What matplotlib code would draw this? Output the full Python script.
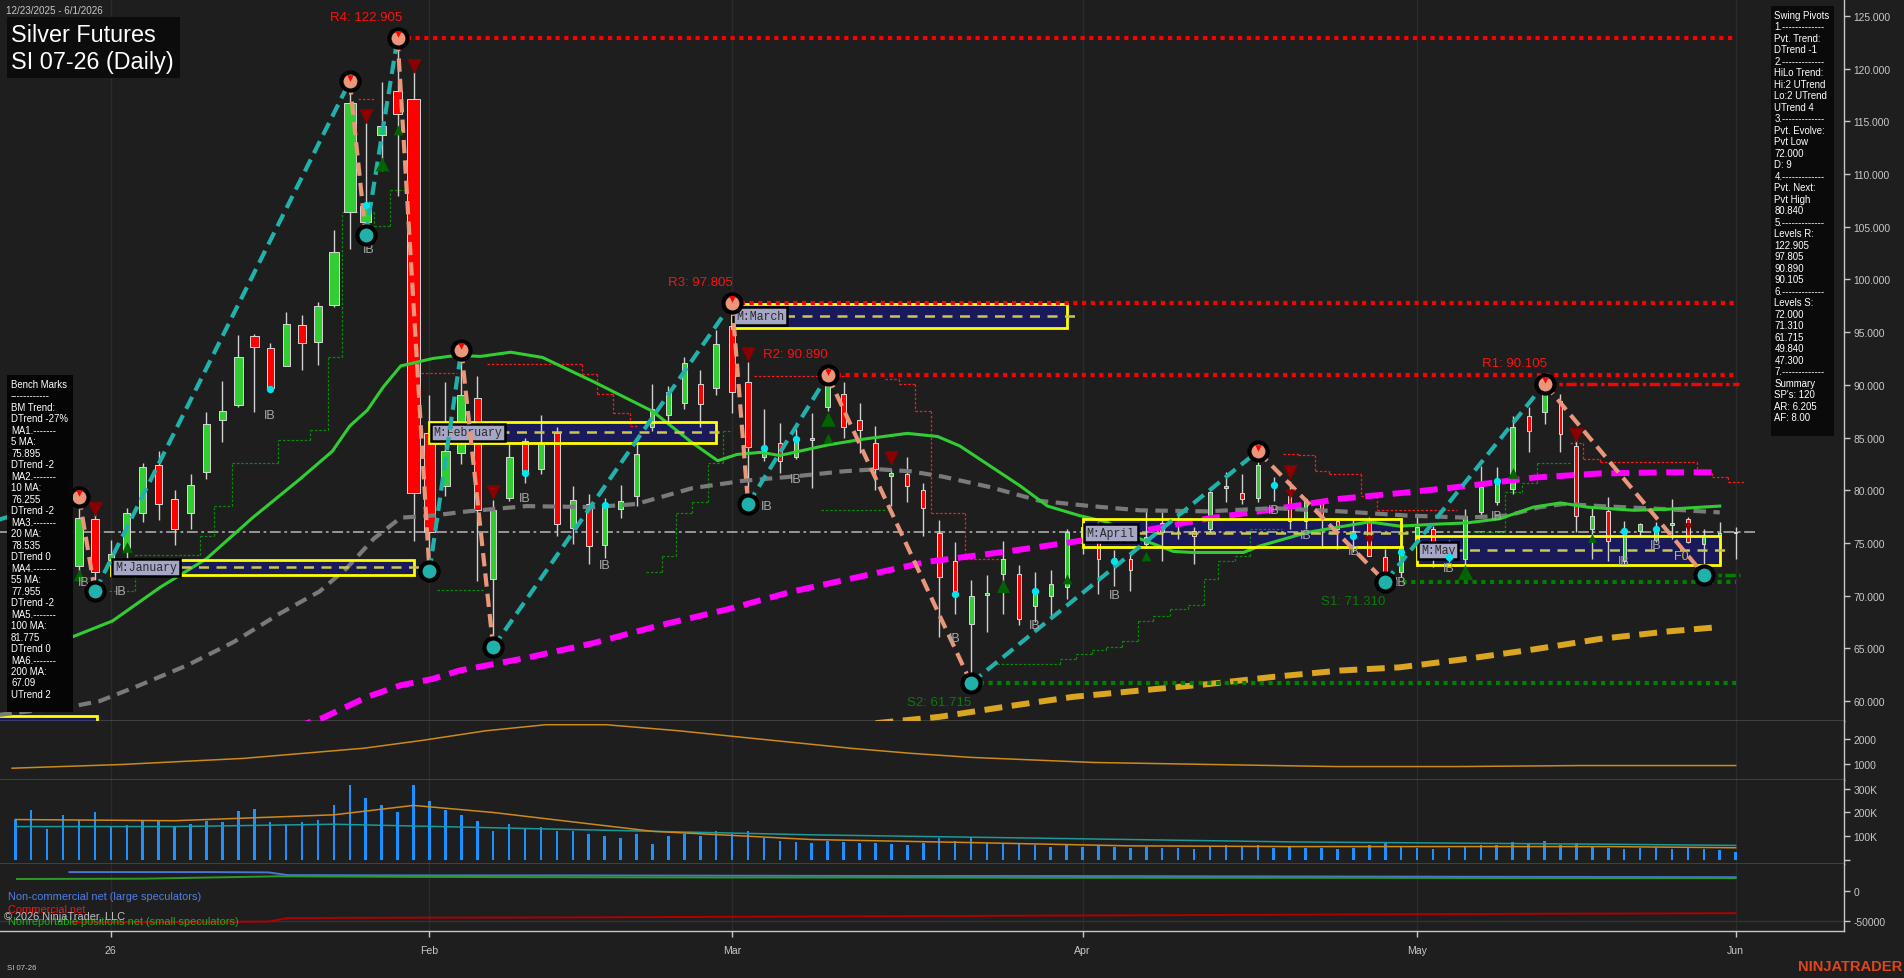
import matplotlib
matplotlib.use("Agg")
import matplotlib.pyplot as plt
from matplotlib.patches import Rectangle
import numpy as np

plt.rcParams['font.family'] = ['Liberation Sans', 'DejaVu Sans']

W, H = 1904, 979
BG = '#1e1e1e'
TXT = '#c8c8c8'

# ---------------- price bars (index 0 = 12/23/2025, 108 = 6/1/2026) ----------------
opens = [71.0, 72.5, 74.5, 75.8, 72.8, 77.3, 73.4, 74.3, 77.8, 82.4,
         79.2, 77.8, 81.7, 86.7, 88.1, 94.6, 93.5, 91.8, 95.7, 94.1,
         97.6, 106.4, 105.5, 113.7, 117.9, 117.1, 85.4, 80.4, 83.5, 88.8,
         71.6, 79.3, 84.7, 82.0, 85.4, 76.4, 78.7, 74.8, 78.2, 79.5,
         86.0, 87.1, 88.3, 90.1, 89.7, 95.6, 90.3, 83.2, 84.5, 83.2,
         84.8, 87.9, 89.1, 86.7, 84.5, 81.4, 81.5, 80.0, 75.9, 73.3,
         67.3, 70.1, 72.1, 72.1, 69.0, 70.0, 70.8, 75.0, 76.0, 73.3,
         73.5, 74.9, 76.0, 76.7, 76.1, 76.3, 80.2, 79.7, 79.3, 80.5,
         79.5, 77.1, 79.0, 77.1, 75.8, 77.3, 73.7, 72.2, 75.0, 76.3,
         74.1, 73.5, 77.9, 78.9, 80.1, 87.0, 87.4, 88.5, 84.2, 76.3,
         78.0, 73.3, 76.1, 75.3, 76.7, 77.3, 74.9, 75.8, 75.9]
highs = [73.5, 75.0, 76.5, 77.0, 79.4, 78.7, 75.3, 78.3, 82.6, 83.7,
         80.0, 81.5, 87.4, 90.4, 94.7, 94.8, 94.0, 96.9, 96.6, 97.9,
         104.7, 118.8, 114.8, 118.7, 122.905, 119.7, 89.0, 90.3, 93.3, 90.8,
         79.1, 84.5, 85.0, 87.1, 86.0, 80.4, 79.6, 79.3, 80.5, 84.5,
         90.1, 89.9, 92.6, 91.4, 95.2, 97.805, 92.2, 87.7, 86.4, 85.8,
         87.3, 90.89, 90.3, 88.3, 86.1, 82.0, 83.2, 80.7, 77.2, 75.1,
         71.5, 72.0, 75.2, 72.9, 72.2, 72.4, 76.3, 77.5, 77.0, 74.3,
         74.0, 78.2, 77.9, 77.9, 76.5, 79.9, 81.7, 81.5, 83.7, 81.3,
         80.9, 79.3, 79.2, 77.3, 77.2, 77.5, 74.4, 75.2, 77.5, 76.6,
         75.3, 78.2, 82.3, 82.2, 87.0, 87.9, 90.105, 89.1, 84.9, 78.4,
         79.4, 77.1, 76.9, 77.0, 79.2, 77.5, 76.3, 77.0, 76.5]
lows = [70.0, 71.8, 73.5, 72.5, 72.2, 70.4, 71.8, 73.6, 77.0, 77.2,
        74.8, 76.3, 81.1, 84.6, 87.9, 87.4, 89.3, 91.8, 91.4, 91.9,
        97.4, 102.9, 104.2, 110.3, 107.9, 75.2, 72.3, 79.5, 82.5, 71.4,
        65.1, 79.0, 80.7, 81.5, 75.7, 74.9, 73.0, 73.6, 77.4, 78.5,
        85.6, 86.4, 87.7, 86.0, 89.0, 87.3, 78.7, 82.8, 81.6, 83.0,
        80.2, 87.5, 85.0, 83.5, 80.0, 78.5, 78.9, 75.7, 66.1, 68.3,
        61.715, 66.6, 68.3, 67.2, 67.5, 67.9, 69.7, 74.0, 70.2, 70.9,
        70.4, 74.5, 73.3, 75.4, 73.0, 76.0, 78.9, 78.7, 78.9, 79.0,
        76.3, 76.3, 74.7, 74.4, 74.1, 73.8, 71.31, 71.8, 72.8, 72.7,
        73.2, 72.8, 77.6, 78.6, 79.6, 83.6, 86.3, 83.6, 76.0, 73.5,
        73.3, 72.8, 75.6, 75.1, 75.4, 75.0, 72.0, 74.4, 73.5]
closes = [72.5, 74.5, 75.8, 73.2, 77.4, 72.2, 74.0, 77.8, 82.2, 78.7,
          76.3, 80.5, 86.3, 87.5, 92.6, 93.6, 89.7, 95.8, 94.0, 97.5,
          102.6, 116.7, 107.0, 114.6, 115.7, 79.7, 76.0, 83.7, 89.0, 78.1,
          78.1, 83.2, 81.6, 84.5, 76.8, 79.1, 74.7, 78.5, 79.0, 83.4,
          87.7, 89.3, 92.1, 88.2, 93.9, 89.3, 84.1, 84.0, 82.8, 84.9,
          85.0, 89.9, 86.0, 85.7, 82.0, 81.6, 80.4, 78.3, 71.8, 70.4,
          70.0, 70.3, 73.5, 67.8, 70.5, 71.1, 76.0, 76.5, 73.5, 73.6,
          72.4, 75.6, 76.9, 76.9, 75.7, 79.8, 80.4, 79.2, 82.4, 80.7,
          77.1, 79.2, 77.5, 76.3, 76.1, 73.8, 72.1, 74.7, 76.5, 74.1,
          74.4, 77.6, 80.3, 80.9, 86.0, 85.6, 89.1, 85.3, 77.6, 77.6,
          75.2, 76.0, 76.8, 76.3, 76.9, 75.1, 75.8, 75.9, 76.0]

# volume in thousands of contracts
volume = [170, 210, 130, 190, 170, 200, 140, 145, 165, 170, 140, 150, 165, 160, 205, 215, 160,
          150, 160, 170, 230, 315, 260, 230, 200, 315, 250, 210, 190, 165, 120, 150, 130, 140,
          120, 120, 110, 100, 90, 110, 65, 100, 110, 100, 120, 110, 120, 90, 80, 75, 70, 80,
          75, 70, 70, 65, 60, 70, 90, 80, 95, 70, 65, 70, 60, 55, 65, 55, 60, 55, 50, 55, 50,
          50, 45, 55, 60, 55, 60, 50, 55, 50, 50, 45, 50, 60, 70, 55, 50, 45, 50, 55, 60, 60,
          75, 65, 80, 60, 70, 55, 50, 45, 50, 55, 45, 50, 45, 40, 30]

xtick_pos = [6, 26, 45, 67, 88, 108]
xtick_lab = ['26', 'Feb', 'Mar', 'Apr', 'May', 'Jun']

# ---------------- moving averages (read at sample bars) ----------------
ma20_x = [0, 3.6, 6.1, 9.1, 12.0, 14.9, 17.9, 19.9, 21.0, 22.1, 23.1, 24.2, 26.2, 27.7, 29.2,
          31.1, 33.1, 36.3, 40.0, 42.5, 44.1, 45.3, 46.8, 48.0, 51.0, 53.0, 56.0, 57.9, 59.3,
          61.2, 63.1, 64.8, 66.8, 68.5, 70.6, 72.7, 73.9, 77.1, 78.1, 81.1, 85.0, 86.9, 89.4,
          91.1, 93.2, 95.3, 97.0, 98.7, 101.6, 103.7, 107.0]
ma20_y = [65.0, 66.1, 67.6, 70.8, 73.5, 77.4, 81.1, 83.7, 86.1, 87.6, 89.8, 91.8, 92.5, 92.8, 92.7,
          93.1, 92.6, 90.3, 87.5, 84.5, 82.8, 83.4, 83.6, 83.3, 84.3, 84.8, 85.4, 85.1, 84.2,
          82.3, 80.4, 78.5, 77.6, 77.0, 75.4, 74.2, 74.1, 74.1, 74.7, 76.0, 77.0, 76.6, 76.8,
          76.9, 77.3, 78.4, 78.8, 78.4, 78.1, 78.2, 78.5]
ma55_x = [-1.0, 3.6, 5.3, 7.8, 10.8, 13.7, 16.6, 19.1, 20.8, 22.5, 24.2, 26.2, 28.4, 32.1, 36.3,
          39.0, 42.5, 45.7, 48.8, 52.0, 54.1, 56.2, 58.2, 61.2, 64.3, 67.5, 70.6, 74.8, 79.0,
          83.2, 87.4, 91.1, 93.7, 95.7, 97.2, 99.5, 103.7, 107.0]
ma55_y = [58.7, 59.5, 60.0, 61.5, 63.4, 65.6, 68.3, 70.4, 72.6, 75.4, 77.4, 77.6, 78.0, 78.5, 78.4,
          78.7, 80.2, 80.9, 81.3, 81.8, 82.0, 81.8, 81.3, 80.3, 79.0, 78.5, 78.1, 78.0, 78.3,
          78.0, 77.6, 77.4, 77.6, 78.4, 78.7, 78.5, 78.2, 77.9]
ma100_x = [17.5, 19.3, 22.1, 24.2, 26.2, 27.9, 32.1, 36.3, 40.5, 44.7, 48.8, 53.0, 57.2, 62.3,
           66.4, 70.6, 74.8, 79.0, 83.2, 87.4, 91.1, 95.3, 99.5, 103.7, 107.0]
ma100_y = [57.5, 58.4, 60.4, 61.5, 62.1, 62.9, 64.1, 65.5, 67.2, 68.7, 70.4, 71.8, 73.2, 74.2,
           75.1, 76.1, 77.3, 78.2, 79.2, 79.8, 80.4, 81.2, 81.6, 81.7, 81.7]
ma200_x = [54.0, 58.0, 62.3, 66.4, 70.6, 74.8, 79.0, 83.2, 86.9, 91.1, 95.3, 99.5, 103.7, 106.8]
ma200_y = [57.9, 58.5, 59.5, 60.4, 61.0, 61.6, 62.3, 62.9, 63.2, 64.0, 64.9, 65.9, 66.6, 67.0]

# ---------------- trailing step lines (start bar, end bar, price) ----------------
green_steps = [(5.9, 7.5, 70.4), (7.5, 11.6, 73.9), (11.6, 12.5, 75.7), (12.5, 13.6, 78.5),
               (13.6, 16.5, 82.6), (16.5, 18.5, 84.8), (18.5, 19.6, 85.7), (19.6, 20.5, 92.6),
               (20.5, 22.5, 106.4), (22.5, 23.5, 105.1), (23.5, 24.6, 108.5),
               (26.5, 29.5, 70.5), (39.6, 40.6, 72.2), (40.6, 41.5, 73.8), (41.5, 42.5, 77.8),
               (42.5, 43.5, 78.9), (43.5, 44.4, 82.6), (44.4, 45.0, 85.6), (50.6, 54.7, 78.1),
               (61.6, 65.6, 63.5), (65.6, 66.6, 64.0), (66.6, 67.6, 64.5), (67.6, 68.5, 64.8),
               (68.5, 69.5, 65.1), (69.5, 70.5, 65.7), (70.5, 71.4, 67.6), (71.4, 72.5, 68.1),
               (72.5, 73.6, 68.7), (73.6, 74.6, 69.1), (74.6, 75.5, 71.6), (75.5, 76.6, 73.3),
               (76.6, 77.5, 73.8), (77.5, 79.5, 76.3), (91.5, 93.5, 76.0), (93.5, 94.6, 79.8),
               (94.6, 95.5, 80.7), (95.5, 97.6, 82.6)]
red_steps = [(21.5, 22.5, 117.1), (25.5, 27.7, 91.1), (29.6, 35.6, 92.0), (35.6, 36.5, 91.0),
             (36.5, 37.5, 89.1), (37.5, 38.6, 87.3), (38.6, 39.0, 86.1),
             (46.4, 52.1, 90.8), (54.6, 55.5, 90.6), (55.5, 56.5, 90.1), (56.5, 57.5, 87.5),
             (57.5, 59.6, 77.8), (59.6, 62.2, 73.5),
             (79.6, 80.5, 83.4), (80.5, 81.6, 83.3), (81.6, 82.5, 81.8), (82.5, 84.5, 81.5),
             (84.5, 85.5, 79.5), (85.5, 90.5, 78.1),
             (97.6, 98.4, 84.5), (98.4, 99.5, 83.0), (99.5, 105.6, 82.7), (105.6, 106.5, 81.6),
             (106.5, 107.5, 81.3), (107.5, 108.6, 80.8)]

# ---------------- swing pivots ----------------
pivot_idx = [-5, 4, 5, 21, 22, 24, 26, 28, 30, 45, 46, 51, 60, 78, 86, 96, 106]
pivot_px = [75.5, 79.4, 70.4, 118.8, 104.2, 122.905, 72.3, 93.3, 65.1, 97.805, 78.7, 90.89,
            61.715, 83.7, 71.31, 90.105, 72.0]
pivot_hi = [False, True, False, True, False, True, False, True, False, True, False, True,
            False, True, False, True, False]

res_levels = [("R4", 24, 122.905), ("R3", 45, 97.805), ("R2", 51, 90.890)]
r1_level = ("R1", 96, 90.105)
sup_levels = [("S1", 86, 71.310), ("S2", 60, 61.715)]
pvt_low_level = (106, 72.000)

# ---------------- monthly boxes (first bar, last bar, low, high, name) ----------------
months = [("M:January", 6, 25, 71.97, 73.39), ("M:February", 26, 44, 84.49, 86.48),
          ("M:March", 45, 66, 95.40, 97.67), ("M:April", 67, 87, 74.62, 77.28),
          ("M:May", 88, 107, 72.91, 75.67)]
dec_box = (-1.5, 5.1, 50.0, 58.6)

# markers
down_tri = [(5, 78.2, 110), (22, 115.5, 110), (25, 120.3, 110), (30, 79.8, 110), (46, 92.9, 110),
            (55, 83.1, 110), (80, 81.7, 110), (80, 79.6, 50), (85, 75.3, 50), (98, 85.2, 110),
            (105, 76.5, 40)]
up_tri = [(4, 72.0, 70), (7, 74.6, 60), (23, 111.0, 100), (24, 114.2, 50), (51, 86.8, 110),
          (51, 85.0, 50), (62, 70.9, 90), (66, 71.6, 50), (71, 73.8, 50), (91, 72.2, 120),
          (94, 81.6, 60), (99, 75.5, 40), (106, 72.3, 40)]
cyan_dots = [(16, 89.6), (22, 107.1), (32, 81.6), (37, 78.6), (47, 84.0), (49, 84.9), (59, 70.2),
             (64, 70.4), (69, 73.3), (79, 80.5), (84, 75.7), (87, 74.1), (90, 73.7), (93, 80.9),
             (101, 76.1), (103, 76.3)]
ib_labels = [(4.3, 71.3), (6.6, 70.4), (16, 87.1), (22.2, 102.9), (32, 79.3), (37, 72.9),
             (47.2, 78.5), (49, 81.1), (59, 66.0), (64, 67.2), (69, 70.1), (79, 78.1),
             (81, 75.8), (84, 74.2), (87.0, 71.3), (90, 72.6), (93, 77.6), (101, 73.3),
             (103, 74.8)]

# ---------------- lower panels ----------------
osc_x = [-0.2, 6.6, 14.3, 21.9, 25.7, 29.5, 33.3, 37.1, 41.7, 44.8, 48.6, 52.4, 56.2, 60.0,
         67.7, 75.3, 82.9, 90.5, 98.2, 108.0]
osc_y = [808, 958, 1208, 1625, 1958, 2333, 2583, 2583, 2333, 2125, 1875, 1625, 1417, 1250,
         1042, 958, 875, 875, 917, 917]

vol_avg_x = [0, 10, 20, 25, 30, 40, 50, 60, 70, 80, 90, 100, 108]
vol_avg_y = [170, 165, 190, 230, 200, 120, 85, 72, 58, 55, 55, 55, 50]
oi_x = [0, 10, 20, 30, 40, 50, 60, 70, 80, 90, 100, 108]
oi_y = [140, 140, 150, 135, 120, 105, 95, 85, 75, 70, 65, 60]

cot_x = [3.4, 8.0, 12.5, 15.9, 17.1, 25.0, 35.0, 45.0, 55.0, 65.0, 75.0, 85.0, 95.0, 108.0]
cot_noncomm = [31500, 31500, 31500, 31000, 26500, 26000, 26000, 25500, 25000, 25000, 24500,
               24000, 23500, 23000]
cot_comm = [-52000, -52000, -51500, -51000, -45000, -44500, -44000, -43000, -42000, -41000,
            -40000, -39000, -38000, -37000]
cot_small_x = [0.1, 8.0, 16.5, 25.0, 35.0, 45.0, 55.0, 65.0, 75.0, 85.0, 95.0, 108.0]
cot_small = [20000, 20500, 24500, 23500, 23000, 22500, 22500, 22000, 22000, 22000, 21500, 21500]

bench_lines = ["Bench Marks", "------------", "BM Trend:", "DTrend -27%", "MA1.-------", "5 MA:",
               "75.895", "DTrend -2", "MA2.-------", "10 MA:", "76.255", "DTrend -2",
               "MA3.-------", "20 MA:", "78.535", "DTrend 0", "MA4.-------", "55 MA:", "77.955",
               "DTrend -2", "MA5.-------", "100 MA:", "81.775", "DTrend 0", "MA6.-------",
               "200 MA:", "67.09", "UTrend 2"]
swing_lines = ["Swing Pivots", "1.-------------", "Pvt. Trend:", "DTrend -1", "2.-------------",
               "HiLo Trend:", "Hi:2 UTrend", "Lo:2 UTrend", "UTrend 4", "3.-------------",
               "Pvt. Evolve:", "Pvt Low", "72.000", "D: 9", "4.-------------", "Pvt. Next:",
               "Pvt High", "80.840", "5.-------------", "Levels R:", "122.905", "97.805",
               "90.890", "90.105", "6.-------------", "Levels S:", "72.000", "71.310", "61.715",
               "49.840", "47.300", "7.-------------", "Summary", "SP's: 120", "AR: 6.205",
               "AF: 8.00"]

# =====================================================================
fig = plt.figure(figsize=(W / 100, H / 100), dpi=100, facecolor=BG)


def px_axes(top, bottom):
    return fig.add_axes([0, 1 - bottom / H, 1844 / W, (bottom - top) / H])


ax = px_axes(0, 722)
ax2 = px_axes(722, 781)
ax3 = px_axes(781, 865)
ax4 = px_axes(865, 932)
XL = (-0.96, 114.8)
for a in (ax, ax2, ax3, ax4):
    a.set_facecolor(BG)
    a.set_xlim(*XL)
    for s in ('top', 'left'):
        a.spines[s].set_visible(False)
    for s in ('right', 'bottom'):
        a.spines[s].set_color(TXT)
        a.spines[s].set_linewidth(1)
    a.yaxis.tick_right()
    a.tick_params(axis='y', colors=TXT, labelcolor=TXT, labelsize=7.4, length=4, width=1, pad=3)
    a.tick_params(axis='x', bottom=False, labelbottom=False)
    for xp in xtick_pos:
        a.axvline(xp, color='#2b2b2b', lw=1, zorder=0)

ax.set_ylim(58.11, 126.61)
ax2.set_ylim(327, 2735)
ax3.set_ylim(-19000, 338000)
ax4.set_ylim(-66667, 45000)
ax.set_yticks(list(range(60, 126, 5)))
ax.set_yticklabels([f"{v:.3f}" for v in range(60, 126, 5)])
ax2.set_yticks([1000, 2000])
ax2.set_yticklabels(['1000', '2000'])
ax3.set_yticks([0, 100000, 200000, 300000])
ax3.set_yticklabels(['', '100K', '200K', '300K'])
ax4.set_yticks([0, -50000])
ax4.set_yticklabels(['0', '-50000'])
ax4.set_xticks(xtick_pos)
ax4.set_xticklabels(xtick_lab)
ax4.tick_params(axis='x', bottom=True, labelbottom=True, colors=TXT, labelcolor=TXT,
                labelsize=7.6, length=4, width=1, pad=6)

n = len(opens)
idx = np.arange(n)

# monthly boxes (fill under candles)
for name, b0, b1, lo, hi in months:
    ax.add_patch(Rectangle((b0, lo), b1 - b0, hi - lo, facecolor='#1a1a5a', edgecolor='none', zorder=1))
ax.add_patch(Rectangle((dec_box[0], dec_box[2]), dec_box[1] - dec_box[0], dec_box[3] - dec_box[2],
                       facecolor='#1a1a5a', edgecolor='#ffff00', lw=2, zorder=1))

# current price line
ax.plot([XL[0], 109.4], [closes[-1], closes[-1]], color='#a0a0a0', lw=1.3,
        dashes=(6, 2, 1.5, 2), zorder=2)

# step lines
def draw_steps(steps, color):
    for a0, a1, v in steps:
        ax.plot([a0, a1], [v, v], color=color, lw=0.9, dashes=(2, 1.5), zorder=2)
    for k in range(len(steps) - 1):
        a0, a1, v = steps[k]
        b0, b1, w = steps[k + 1]
        if abs(b0 - a1) < 0.05:
            ax.plot([a1, a1], [v, w], color=color, lw=0.9, dashes=(2, 1.5), zorder=2)


draw_steps(green_steps, '#0a8a0a')
draw_steps(red_steps, '#ff1a1a')

# candles: body width grows with volume (as in the reference)
for i in range(n):
    o, h, l, c = opens[i], highs[i], lows[i], closes[i]
    ax.plot([i, i], [l, h], color='#d0d0d0', lw=1, zorder=3, solid_capstyle='butt')
    up = c >= o
    body = max(abs(c - o), 0.12)
    bw = (1.8 + 0.034 * volume[i]) / 15.93
    ax.add_patch(Rectangle((i - bw / 2, min(o, c)), bw, body,
                           facecolor='#32cd32' if up else '#ff0000',
                           edgecolor='#d8d8d8', lw=0.7, zorder=3))

# moving averages
ax.plot(ma200_x, ma200_y, color='#daa520', lw=4.3, dashes=(3.0, 1.6), zorder=4)
ax.plot(ma100_x, ma100_y, color='#ff00ff', lw=4.3, dashes=(3.0, 1.6), zorder=4)
ax.plot(ma55_x, ma55_y, color='#7a7a7a', lw=3.0, dashes=(3.0, 1.8), zorder=4)
ax.plot(ma20_x, ma20_y, color='#32cd32', lw=2.2, zorder=4)

# monthly box outlines, mid-lines, labels
for name, b0, b1, lo, hi in months:
    ax.add_patch(Rectangle((b0, lo), b1 - b0, hi - lo, facecolor='none', edgecolor='#ffff00',
                           lw=2, zorder=5))
    mid = (lo + hi) / 2
    ax.plot([b0, b1 + 0.6], [mid, mid], color='#c8c850', lw=1.8, dashes=(4, 3), zorder=5)
    ax.text(b0 + 0.25, mid, name, fontsize=8.3, family=['Liberation Mono', 'DejaVu Sans Mono'],
            color='#2a2a2a', va='center', ha='left', zorder=6,
            bbox=dict(boxstyle='square,pad=0.25', fc='#a6a6c6', ec='#000000', lw=1.8))

# levels
for name, b, v in res_levels:
    ax.plot([b, 108], [v, v], color='#ff0000', lw=3, dashes=(1, 1.1), zorder=5)
    ax.text(b - 2.0, v + 2.0, f"{name}: {v:.3f}", color='#ff1010', fontsize=9.5,
            ha='center', va='center', zorder=6)
name, b, v = r1_level
ax.plot([b, 108.2], [v, v], color='#ff0000', lw=2.5, dashes=(3, 1, 1, 1), zorder=5)
ax.text(b - 1.9, v + 2.0, f"{name}: {v:.3f}", color='#ff1010', fontsize=9.5,
        ha='center', va='center', zorder=6)
for name, b, v in sup_levels:
    ax.plot([b, 108], [v, v], color='#008000', lw=3, dashes=(1, 1.1), zorder=5)
    ax.text(b - 2.0, v - 1.8, f"{name}: {v:.3f}", color='#0a7a0a', fontsize=9.5,
            ha='center', va='center', zorder=6)
ax.plot([pvt_low_level[0], 108.3], [pvt_low_level[1]] * 2, color='#008000', lw=2.5,
        dashes=(3, 1, 1, 1), zorder=5)

# zigzag
for k in range(len(pivot_idx) - 1):
    col = '#20b2aa' if pivot_hi[k + 1] else '#e9967a'
    ax.plot([pivot_idx[k], pivot_idx[k + 1]], [pivot_px[k], pivot_px[k + 1]], color=col,
            lw=3.0, dashes=(3.2, 1.7), zorder=6)

# markers
for x, y, s in down_tri:
    ax.scatter([x], [y], marker='v', s=s, color='#8b0000', zorder=6, linewidths=0)
for x, y, s in up_tri:
    ax.scatter([x], [y], marker='^', s=s, color='#006400', zorder=6, linewidths=0)
ax.scatter([p[0] for p in cyan_dots], [p[1] for p in cyan_dots], s=28, color='#00e5ee', zorder=6,
           linewidths=0)
for x, y in ib_labels:
    ax.text(x, y, 'IB', color='#a8a8a8', fontsize=9, ha='center', va='center', zorder=6)
ax.text(104.6, 73.8, 'F0', color='#c8b840', fontsize=9, ha='center', va='center', zorder=6)

# pivot circles
for x, y, hi in zip(pivot_idx, pivot_px, pivot_hi):
    ax.scatter([x], [y], s=170, facecolor='#e9967a' if hi else '#20b2aa', edgecolor='#000000',
               linewidths=3, zorder=8)
    if hi:
        ax.scatter([x], [y + 0.35], marker='v', s=22, color='#ff0000', zorder=9, linewidths=0)

# ---- oscillator panel
ax2.plot(osc_x, osc_y, color='#cc8a1a', lw=1.1)

# ---- volume panel
ax3.bar(idx, [v * 1000 for v in volume], width=0.16, color='#1e90ff', zorder=2)
ax3.plot(oi_x, [v * 1000 for v in oi_y], color='#1a9a9a', lw=1.1, zorder=3)
ax3.plot(vol_avg_x, [v * 1000 for v in vol_avg_y], color='#cc8a1a', lw=1.1, zorder=3)

# ---- COT panel
ax4.axhline(-50000, color='#333333', lw=1, zorder=0)
ax4.plot(cot_x, cot_noncomm, color='#4a74d8', lw=1.4)
ax4.plot(cot_small_x, cot_small, color='#2a9a2a', lw=1.4)
ax4.plot(cot_x, cot_comm, color='#b00000', lw=1.4)


# ---- figure level text / panels
def fx(x):
    return x / W


def fy(y):
    return 1 - y / H


def fig_rect(x0, y0, x1, y1, color):
    fig.add_artist(Rectangle((fx(x0), fy(y1)), fx(x1) - fx(x0), fy(y0) - fy(y1),
                             transform=fig.transFigure, facecolor=color, edgecolor='none',
                             zorder=20))


fig.text(fx(6), fy(11.5), "12/23/2025 - 6/1/2026", color=TXT, fontsize=7.1, va='center',
         ha='left', zorder=21)
fig_rect(7, 18, 180, 79, '#0c0c0c')
fig.text(fx(11), fy(35.5), "Silver Futures", color='#ffffff', fontsize=16.8, va='center',
         ha='left', zorder=21)
fig.text(fx(11), fy(63), "SI 07-26 (Daily)", color='#ffffff', fontsize=16.8, va='center',
         ha='left', zorder=21)

fig_rect(7, 376, 73, 713, '#050505')
for k, t in enumerate(bench_lines):
    fig.text(fx(11), fy(385 + 11.48 * k), t, color='#ffffff', fontsize=6.9, va='center',
             ha='left', zorder=21)

fig_rect(1771, 7, 1834, 437, '#0a0a0a')
for k, t in enumerate(swing_lines):
    fig.text(fx(1774.5), fy(16 + 11.49 * k), t, color='#ffffff', fontsize=6.9, va='center',
             ha='left', zorder=21)

fig.text(fx(8), fy(897), "Non-commercial net (large speculators)", color='#4f7fe8', fontsize=7.9,
         va='center', ha='left', zorder=21)
fig.text(fx(8), fy(910), "Commercial net", color='#ff1010', fontsize=7.9, va='center', ha='left',
         zorder=21)
fig.text(fx(8), fy(922), "Nonreportable positions net (small speculators)", color='#22aa22',
         fontsize=7.9, va='center', ha='left', zorder=21)
fig.text(fx(4.5), fy(917.5), "\u00a9 2026 NinjaTrader, LLC", color='#c0c0c0', fontsize=7.9,
         va='center', ha='left', zorder=22)
fig.text(fx(7), fy(969), "SI 07-26", color=TXT, fontsize=5.6, va='center', ha='left', zorder=21)
fig.text(fx(1902), fy(967), "NINJATRADER", color='#e0461c', fontsize=10.6, fontweight='bold',
         va='center', ha='right', zorder=21)

fig.savefig("out.png", dpi=100, facecolor=BG)
